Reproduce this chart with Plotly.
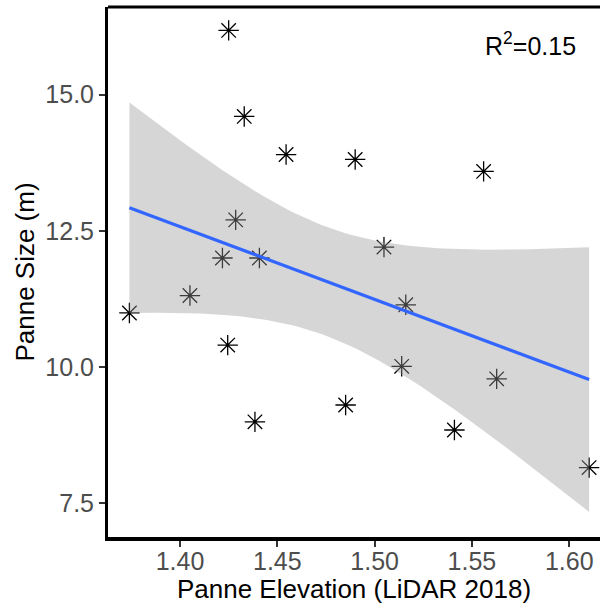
import numpy as np
import plotly.graph_objects as go

# Data
elevation = [1.374, 1.425, 1.433, 1.4545, 1.490, 1.556, 1.4286, 1.4218, 1.4408,
             1.5048, 1.4051, 1.516, 1.4245, 1.5139, 1.5627, 1.4851, 1.4385, 1.541, 1.6102]
panne_size = [10.99, 16.18, 14.60, 13.90, 13.81, 13.59, 12.70, 12.00, 12.00,
              12.20, 11.31, 11.14, 10.40, 10.01, 9.78, 9.30, 8.99, 8.84, 8.15]
x_ticks = [1.40, 1.45, 1.50, 1.55, 1.60]
y_ticks = [7.5, 10.0, 12.5, 15.0]
r2_label = "R<sup>2</sup>=0.15"

x = np.array(elevation)
y = np.array(panne_size)
n = len(x)
b1, b0 = np.polyfit(x, y, 1)
resid = y - (b0 + b1 * x)
s = np.sqrt(np.sum(resid ** 2) / (n - 2))
xbar = x.mean()
sxx = np.sum((x - xbar) ** 2)
t_crit = 2.1098  # t(0.975, df=17)
xs = np.linspace(x.min(), x.max(), 80)
fit = b0 + b1 * xs
se = s * np.sqrt(1.0 / n + (xs - xbar) ** 2 / sxx)
upper = fit + t_crit * se
lower = fit - t_crit * se

FONT = "Liberation Sans, Arial, Helvetica, sans-serif"

fig = go.Figure()
fig.add_trace(go.Scatter(
    x=elevation, y=panne_size, mode="markers",
    marker=dict(symbol="asterisk-open", size=17, color="black",
                line=dict(color="black", width=1.3)),
    showlegend=False, hoverinfo="skip"))
fig.add_trace(go.Scatter(
    x=np.concatenate([xs, xs[::-1]]), y=np.concatenate([upper, lower[::-1]]),
    mode="lines", fill="toself", fillcolor="rgba(153,153,153,0.4)",
    line=dict(width=0), showlegend=False, hoverinfo="skip"))
fig.add_trace(go.Scatter(
    x=xs, y=fit, mode="lines", line=dict(color="#3366FF", width=3.2),
    showlegend=False, hoverinfo="skip"))

fig.add_annotation(xref="paper", yref="paper", x=0.955, y=0.93,
                   xanchor="right", yanchor="middle", text=r2_label,
                   showarrow=False, font=dict(family=FONT, size=25, color="black"))

fig.add_shape(type="line", xref="paper", yref="paper", x0=0, x1=1, y0=1, y1=1,
              line=dict(color="black", width=3))

fig.update_xaxes(range=[1.3630, 1.6158], tickvals=x_ticks,
                 ticktext=[f"{v:.2f}" for v in x_ticks],
                 showgrid=False, zeroline=False, showline=True,
                 linecolor="black", linewidth=4, ticks="outside", ticklen=6,
                 tickwidth=1.5, tickcolor="#333333", ticklabelstandoff=-7,
                 tickfont=dict(family=FONT, size=25, color="#4d4d4d"),
                 title=dict(text="Panne Elevation (LiDAR 2018)", standoff=2,
                            font=dict(family=FONT, size=26, color="black")))
fig.update_yaxes(range=[6.875, 16.61], tickvals=y_ticks,
                 ticktext=[f"{v:.1f}" for v in y_ticks],
                 showgrid=False, zeroline=False, showline=True,
                 linecolor="black", linewidth=3, ticks="outside", ticklen=6,
                 tickwidth=1.5, tickcolor="#333333",
                 tickfont=dict(family=FONT, size=25, color="#4d4d4d"),
                 title=dict(text="Panne Size (m)", standoff=4,
                            font=dict(family=FONT, size=26, color="black")))

fig.update_layout(width=600, height=604, margin=dict(l=108, r=0, t=7, b=67),
                  plot_bgcolor="white", paper_bgcolor="white")

fig.write_html("out.html")
